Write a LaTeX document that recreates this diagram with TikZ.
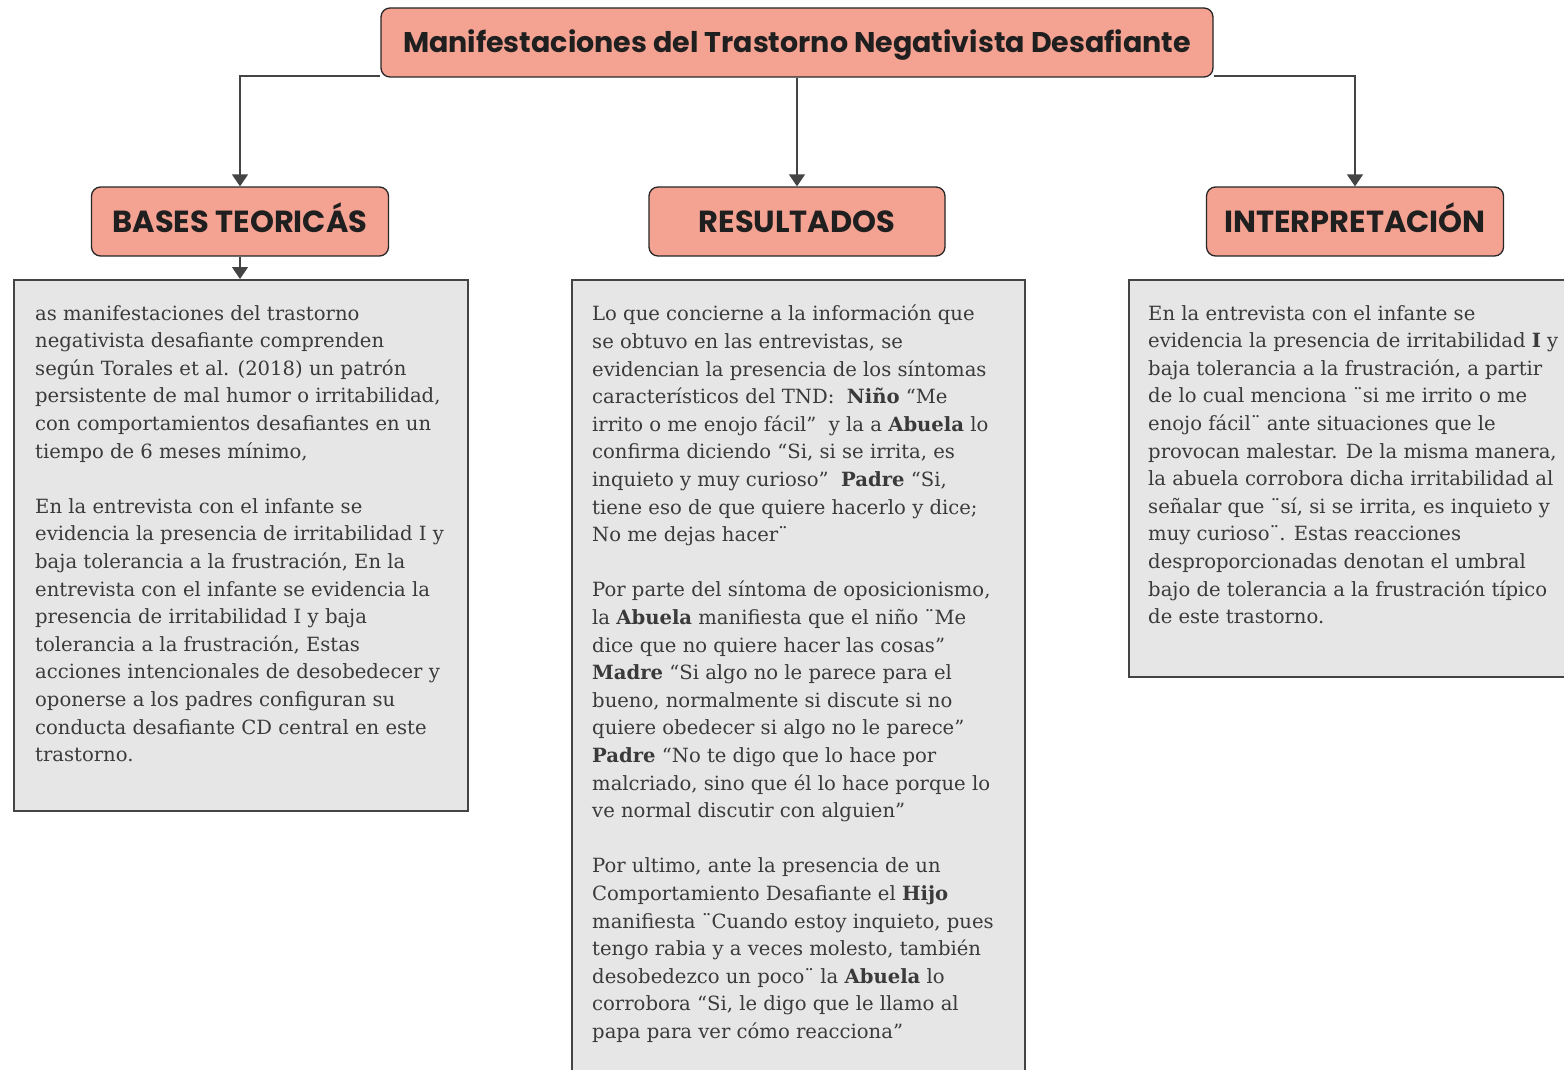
\documentclass[tikz,border=0pt]{standalone}
\usepackage{fontspec}
\setmainfont{DejaVu Serif}
\newfontfamily\headfont{Poppins}
\usetikzlibrary{arrows.meta,positioning}
\definecolor{salmon}{HTML}{F4A292}
\definecolor{boxgray}{HTML}{E6E6E6}
\definecolor{linegray}{HTML}{444444}
\definecolor{txt}{HTML}{3A3A3A}
\tikzset{
  headbox/.style={draw=black!85, line width=1.3pt, fill=salmon, rounded corners=9pt, inner sep=0pt,
    text depth=0pt, text=black!88},
  titlefont/.style={font=\headfont\bfseries\fontsize{28.5}{30}\selectfont, text height=20pt},
  capsfont/.style={font=\headfont\bfseries\fontsize{30.5}{32}\selectfont, text height=21.5pt},
  graybox/.style={draw=linegray, line width=1.6pt, fill=boxgray, inner sep=0pt},
  bodytext/.style={anchor=north west, inner sep=0pt, align=left, text=txt,
    font=\fontsize{19.6}{27.6}\selectfont},
  conn/.style={draw=linegray, line width=1.5pt, -{Triangle[width=16pt,length=12pt]}},
}
\begin{document}
\begin{tikzpicture}[x=1pt,y=-1pt]
\useasboundingbox (0,0) rectangle (1564,1070);
% header boxes
\node[headbox, titlefont, minimum width=832pt, minimum height=69pt] (title) at (797,42.5) {Manifestaciones del Trastorno Negativista Desafiante};
\node[headbox, capsfont, minimum width=297pt, minimum height=69pt] (bases) at (240,221.5) {BASES TEORICÁS};
\node[headbox, capsfont, minimum width=296pt, minimum height=69pt] (res) at (797,221.5) {RESULTADOS};
\node[headbox, capsfont, minimum width=297pt, minimum height=69pt] (interp) at (1355,221.5) {INTERPRETACIÓN};
% gray boxes
\node[graybox, minimum width=454pt, minimum height=531pt, anchor=north west] (g1) at (13,279) {};
\node[graybox, minimum width=453pt, minimum height=800pt, anchor=north west] (g2) at (571,279) {};
\node[graybox, minimum width=440pt, minimum height=397pt, anchor=north west] (g3) at (1128,279) {};
% connectors
\draw[conn] ([yshift=1.5pt]title.south west) -| (bases.north);
\draw[conn] ([yshift=1.5pt]title.south east) -| (interp.north);
\draw[conn] (title.south) -- (res.north);
\draw[conn] (bases.south) -- (bases.south |- g1.north);
% texts
\node[bodytext] (t1) at ([xshift=22pt,yshift=-26pt]g1.north west) {as manifestaciones del trastorno\\
negativista desafiante comprenden\\
según Torales et al. (2018) un patrón\\
persistente de mal humor o irritabilidad,\\
con comportamientos desafiantes en un\\
tiempo de 6 meses mínimo,\\
\mbox{}\\
En la entrevista con el infante se\\
evidencia la presencia de irritabilidad I y\\
baja tolerancia a la frustración, En la\\
entrevista con el infante se evidencia la\\
presencia de irritabilidad I y baja\\
tolerancia a la frustración, Estas\\
acciones intencionales de desobedecer y\\
oponerse a los padres configuran su\\
conducta desafiante CD central en este\\
trastorno.};
\node[bodytext] (t2) at ([xshift=21pt,yshift=-26pt]g2.north west) {Lo que concierne a la información que\\
se obtuvo en las entrevistas, se\\
evidencian la presencia de los síntomas\\
característicos del TND:\ \ \textbf{Niño} “Me\\
irrito o me enojo fácil”\ \ y la a \textbf{Abuela} lo\\
confirma diciendo “Si, si se irrita, es\\
inquieto y muy curioso”\ \ \textbf{Padre} “Si,\\
tiene eso de que quiere hacerlo y dice;\\
No me dejas hacer¨\\
\mbox{}\\
Por parte del síntoma de oposicionismo,\\
la \textbf{Abuela} manifiesta que el niño ¨Me\\
dice que no quiere hacer las cosas”\\
\textbf{Madre} “Si algo no le parece para el\\
bueno, normalmente si discute si no\\
quiere obedecer si algo no le parece”\\
\textbf{Padre} “No te digo que lo hace por\\
malcriado, sino que él lo hace porque lo\\
ve normal discutir con alguien”\\
\mbox{}\\
Por ultimo, ante la presencia de un\\
Comportamiento Desafiante el \textbf{Hijo}\\
manifiesta ¨Cuando estoy inquieto, pues\\
tengo rabia y a veces molesto, también\\
desobedezco un poco¨ la \textbf{Abuela} lo\\
corrobora “Si, le digo que le llamo al\\
papa para ver cómo reacciona”};
\node[bodytext] (t3) at ([xshift=20pt,yshift=-26pt]g3.north west) {En la entrevista con el infante se\\
evidencia la presencia de irritabilidad \textbf{I} y\\
baja tolerancia a la frustración, a partir\\
de lo cual menciona ¨si me irrito o me\\
enojo fácil¨ ante situaciones que le\\
provocan malestar. De la misma manera,\\
la abuela corrobora dicha irritabilidad al\\
señalar que ¨sí, si se irrita, es inquieto y\\
muy curioso¨. Estas reacciones\\
desproporcionadas denotan el umbral\\
bajo de tolerancia a la frustración típico\\
de este trastorno.};
\end{tikzpicture}
\end{document}
